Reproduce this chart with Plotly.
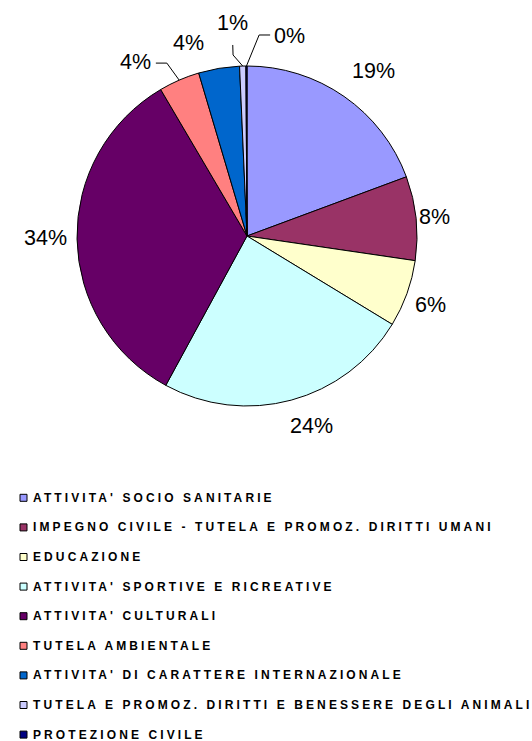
import math
import plotly.graph_objects as go

# --- data -------------------------------------------------------------
categories = [
    "ATTIVITA' SOCIO SANITARIE",
    "IMPEGNO CIVILE - TUTELA E PROMOZ. DIRITTI UMANI",
    "EDUCAZIONE",
    "ATTIVITA' SPORTIVE E RICREATIVE",
    "ATTIVITA' CULTURALI",
    "TUTELA AMBIENTALE",
    "ATTIVITA' DI CARATTERE INTERNAZIONALE",
    "TUTELA E PROMOZ. DIRITTI E BENESSERE DEGLI ANIMALI",
    "PROTEZIONE CIVILE",
]
shares = [19.4, 8.0, 6.4, 24.3, 33.7, 3.9, 3.9, 0.6, 0.1]
colors = ["#9999FF", "#993366", "#FFFFCC", "#CCFFFF", "#660066",
          "#FF8080", "#0066CC", "#CCCCFF", "#000080"]

# --- layout geometry (pixels) -----------------------------------------
W, H = 532, 741
CX, CY, R = 247, 236, 170

# percent labels: distance from pie centre and angular nudge from mid-angle
label_dist = [207.6, 188, 196.5, 200.3, 201.5, 206.8, 202, 213, 203.9]
label_nudge = [2.6, 0.2, 0.8, -3.8, 0.4, -9.0, -7.2, -2.4, 12.1]
# leader lines (elbow and end offsets relative to the label centre)
leaders = {
    5: ((31, 1.5), (20, 1.5)),
    7: ((0.3, 31.5), (0, 21.5)),
    8: ((-30, -1.5), (-19, -1.5)),
}

LEG_X, LEG_Y0, LEG_DY = 20, 497.8, 29.6


def px(x, y):
    return x / W, 1 - y / H


def polar(r, deg):
    a = math.radians(deg)
    return CX + r * math.sin(a), CY - r * math.cos(a)


fig = go.Figure()

x0, y0 = px(CX - R, CY + R)
x1, y1 = px(CX + R, CY - R)
fig.add_trace(go.Pie(
    labels=categories,
    values=shares,
    sort=False,
    direction="clockwise",
    rotation=0,
    marker=dict(colors=colors, line=dict(color="black", width=1)),
    textinfo="none",
    hoverinfo="label+percent",
    showlegend=False,
    domain=dict(x=[x0, x1], y=[y0, y1]),
))

total = sum(shares)
annotations = []
shapes = []
cum = 0.0
label_font = dict(family="Liberation Sans, Arial, sans-serif", size=21.5, color="black")
for i, v in enumerate(shares):
    mid = (cum + v / 2) / total * 360
    cum += v
    pct = round(v / total * 100)
    lx, ly = polar(label_dist[i], mid + label_nudge[i])
    ax_, ay_ = px(lx, ly)
    annotations.append(dict(
        x=ax_, y=ay_, xref="paper", yref="paper", text=f"{pct}%",
        showarrow=False, xanchor="center", yanchor="middle", font=label_font,
    ))
    if i in leaders:
        (ex, ey), (tx, ty) = leaders[i]
        sx, sy = polar(R, mid)
        pts = [px(sx, sy), px(lx + ex, ly + ey), px(lx + tx, ly + ty)]
        path = "M " + " L ".join(f"{a},{b}" for a, b in pts)
        shapes.append(dict(type="path", path=path, xref="paper", yref="paper",
                           line=dict(color="black", width=1)))

# legend: small squares with spaced bold captions
leg_font = dict(family="Arial, Liberation Sans, sans-serif", size=12, color="black")
for i, (name, col) in enumerate(zip(categories, colors)):
    yc = LEG_Y0 + i * LEG_DY
    ax0, ay0 = px(LEG_X, yc + 3.5)
    ax1, ay1 = px(LEG_X + 7, yc - 3.5)
    shapes.append(dict(type="rect", xref="paper", yref="paper",
                       x0=ax0, y0=ay0, x1=ax1, y1=ay1,
                       fillcolor=col, line=dict(color="black", width=1)))
    tx, ty = px(31, yc)
    annotations.append(dict(
        x=tx, y=ty, xref="paper", yref="paper",
        text=f'<span style="font-weight:bold;letter-spacing:3.1px">{name}</span>',
        showarrow=False, xanchor="left", yanchor="middle", font=leg_font,
    ))

fig.update_layout(
    width=W, height=H,
    margin=dict(l=0, r=0, t=0, b=0),
    paper_bgcolor="white", plot_bgcolor="white",
    annotations=annotations, shapes=shapes,
    showlegend=False,
)

fig.write_html("out.html")
